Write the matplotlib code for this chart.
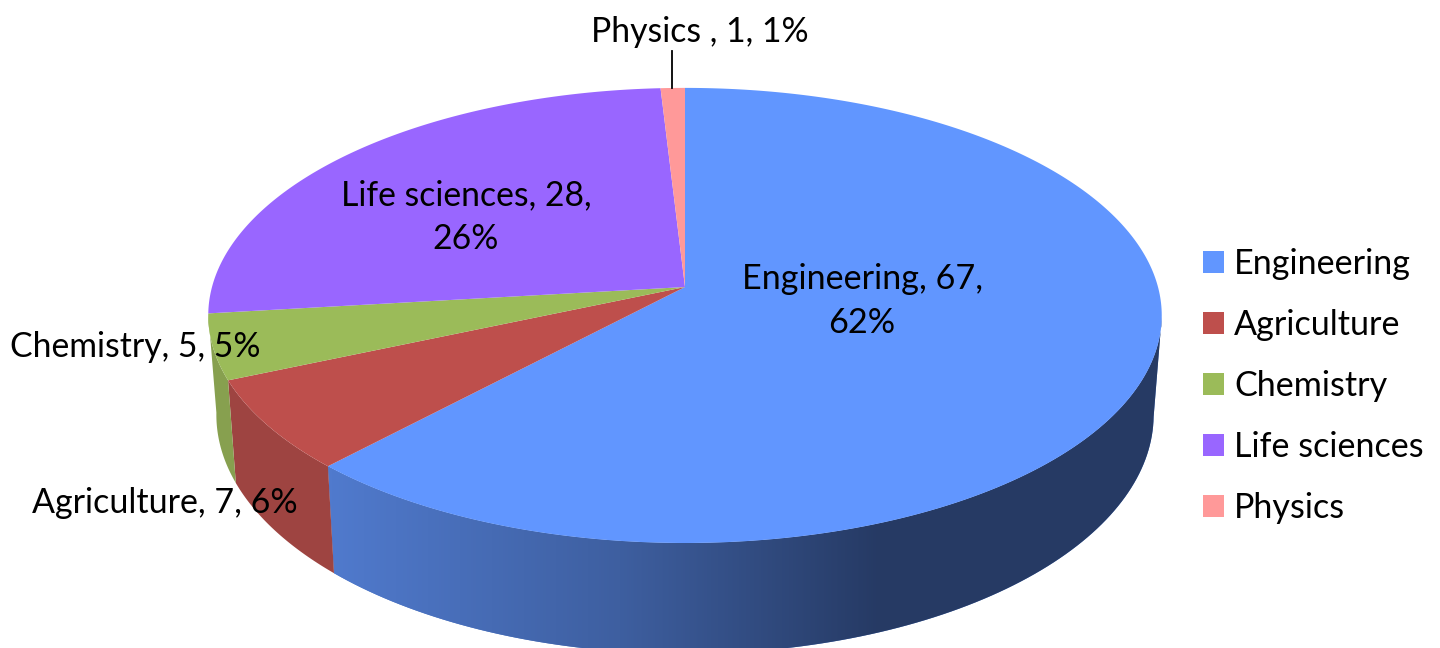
import matplotlib
matplotlib.use("Agg")
import matplotlib.pyplot as plt
import numpy as np
from matplotlib.patches import Patch, Polygon

plt.rcParams['font.family'] = ['Lato', 'DejaVu Sans']

categories = ['Engineering', 'Agriculture', 'Chemistry', 'Life sciences', 'Physics']
values = [67, 7, 5, 28, 1]
percents = [62, 6, 5, 26, 1]
top_colors = ['#6196FF', '#BE4F4C', '#9BBB59', '#9966FF', '#FF9999']
side_colors = ['#4F7BCB', '#9E4441', '#87A04F', '#7A52CC', '#CC7A7A']

# the pie is drawn by hand, matplotlib has no perspective pie
cx, cy = 685, 287
a, b, c = 473, 224, 0.125
FS = 24.3


def rim(theta):
    u, v = np.sin(theta), np.cos(theta)
    d = 1 + c * v
    return cx + a * u / d, cy - b * v / d


def rim_low(theta):
    x, y = rim(theta)
    return cx + (x - cx) * 0.983, cy + (y - cy) * 1.05 + 98


fig = plt.figure(figsize=(14.4, 6.48), dpi=100)
ax = fig.add_axes([0, 0, 1, 1])
ax.set_xlim(0, 1440)
ax.set_ylim(648, 0)
ax.axis('off')

edges = np.cumsum([0] + values) / sum(values) * 2 * np.pi

# side walls, only the part facing us (index 0 to 2)
for i in range(3):
    t = np.linspace(edges[i], edges[i + 1], 200)
    t = t[t > np.radians(97)]
    xt, yt = rim(t)
    xb, yb = rim_low(t)
    pts = np.column_stack([np.r_[xt, xb[::-1]], np.r_[yt, yb[::-1]]])
    wall = Polygon(pts, closed=True, fc=side_colors[i], ec='none', zorder=1 + i)
    ax.add_patch(wall)
    if i == 0:
        # left to right shading of the big wall
        gx = np.linspace(320, 1170, 850)
        r = np.interp(gx, [332, 620, 880, 1170], [80, 62, 38, 38])
        g = np.interp(gx, [332, 620, 880, 1170], [122, 95, 58, 58])
        bl = np.interp(gx, [332, 620, 880, 1170], [205, 160, 100, 100])
        img = np.stack([r, g, bl], axis=1)[None, :, :] / 255
        im = ax.imshow(img, extent=(320, 1170, 660, 300), aspect='auto', zorder=1.5)
        im.set_clip_path(wall)
ax.set_xlim(0, 1440)
ax.set_ylim(648, 0)

# top face
for i in range(5):
    t = np.linspace(edges[i], edges[i + 1], 300)
    xt, yt = rim(t)
    pts = np.column_stack([np.r_[cx, xt], np.r_[cy, yt]])
    ax.add_patch(Polygon(pts, closed=True, fc=top_colors[i], ec='none', zorder=5))

# data labels
ax.text(862, 301, f'{categories[0]}, {values[0]},\n{percents[0]}%', ha='center', va='center',
        fontsize=FS + 0.3, zorder=6, linespacing=1.45)
ax.text(466, 217, f'{categories[3]}, {values[3]},\n{percents[3]}%', ha='center', va='center',
        fontsize=FS, zorder=6, linespacing=1.45)
ax.text(10, 347, f'{categories[2]}, {values[2]}, {percents[2]}%', ha='left', va='center',
        fontsize=FS, zorder=6)
ax.text(32, 503, f'{categories[1]}, {values[1]}, {percents[1]}%', ha='left', va='center',
        fontsize=FS + 0.2, zorder=6)
ax.text(591, 32, f'{categories[4]} , {values[4]}, {percents[4]}%', ha='left', va='center',
        fontsize=FS, zorder=6)
ax.plot([672, 672], [51, 88], color='black', lw=1.3, zorder=6)

handles = [Patch(fc=col, ec='none') for col in top_colors]
ax.legend(handles, categories, loc='upper left', bbox_to_anchor=(1203, 248), bbox_transform=ax.transData,
          frameon=False, fontsize=24.6, handlelength=0.615, handleheight=0.615,
          handletextpad=0.29, labelspacing=0.85, borderpad=0, borderaxespad=0)

fig.savefig('out.png', dpi=100)
